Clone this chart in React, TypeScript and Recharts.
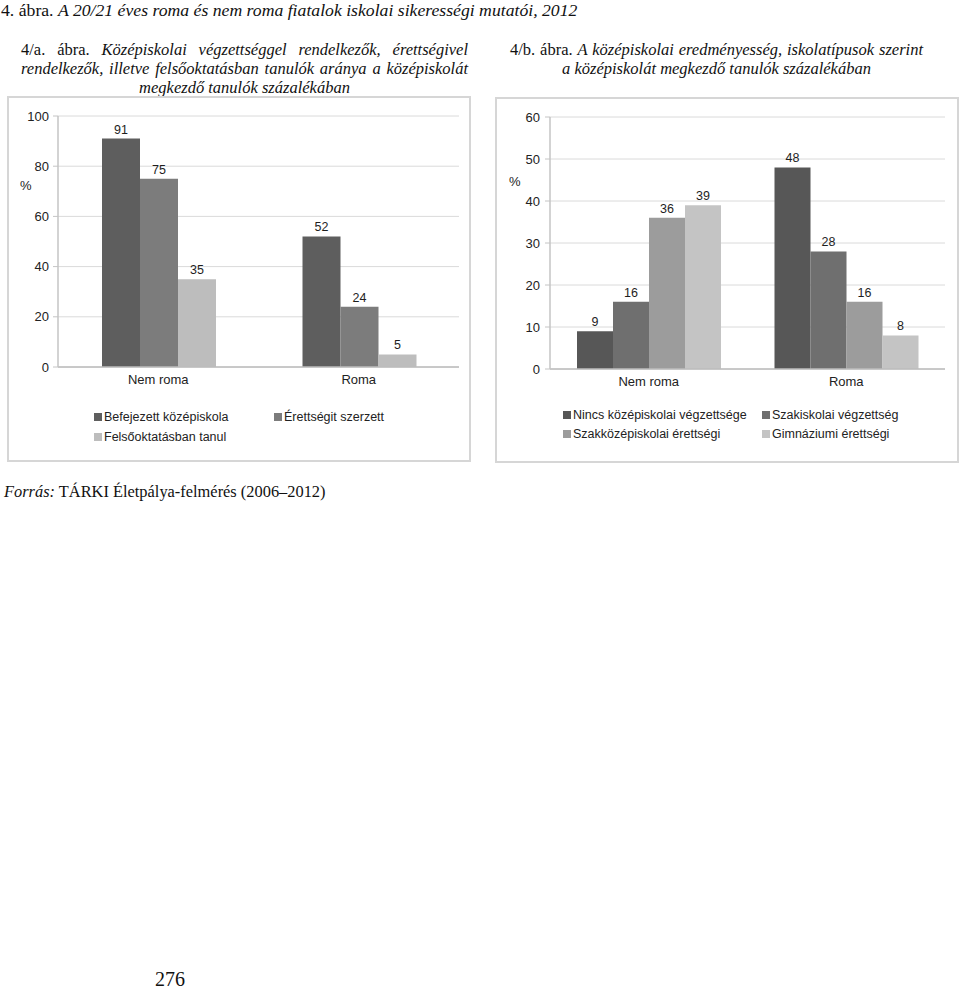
import { Bar, BarChart, CartesianGrid, LabelList, XAxis, YAxis } from "recharts";

const groups = ["Nem roma", "Roma"];

// 4/a
const leftNames = ["Befejezett középiskola", "Érettségit szerzett", "Felsőoktatásban tanul"];
const leftValues = [
  [91, 52],
  [75, 24],
  [35, 5],
];
const leftColors = ["#5e5e5e", "#7c7c7c", "#bdbdbd"];
const leftTicks = [0, 20, 40, 60, 80, 100];

// 4/b
const rightNames = [
  "Nincs középiskolai végzettsége",
  "Szakiskolai végzettség",
  "Szakközépiskolai érettségi",
  "Gimnáziumi érettségi",
];
const rightValues = [
  [9, 48],
  [16, 28],
  [36, 16],
  [39, 8],
];
const rightColors = ["#575757", "#6f6f6f", "#9c9c9c", "#c4c4c4"];
const rightTicks = [0, 10, 20, 30, 40, 50, 60];

const sans = "'Liberation Sans', Arial, sans-serif";
const serif = "'Liberation Serif', 'Times New Roman', serif";

function buildRows(values: number[][]) {
  return groups.map((group, i) => {
    const row: Record<string, string | number> = { group };
    values.forEach((v, s) => {
      row["s" + s] = v[i];
    });
    return row;
  });
}

type PanelProps = {
  names: string[];
  values: number[][];
  colors: string[];
  ticks: number[];
  left: number;
  top: number;
  width: number;
  marginTop: number;
  marginRight: number;
  axisWidth: number;
  tickMargin: number;
  gap: number;
};

function Panel(p: PanelProps) {
  const rows = buildRows(p.values);
  const max = p.ticks[p.ticks.length - 1];
  return (
    <div style={{ position: "absolute", left: p.left, top: p.top }}>
      <BarChart
        width={p.width}
        height={300}
        data={rows}
        margin={{ top: p.marginTop, right: p.marginRight, bottom: 0, left: 0 }}
        barCategoryGap={p.gap}
        barGap={0}
        style={{ fontFamily: sans }}
      >
        <CartesianGrid vertical={false} stroke="#dadada" yAxisId="l" xAxisId="cat" />
        <XAxis
          xAxisId="sep"
          type="number"
          domain={[0, 2]}
          ticks={[0, 1, 2]}
          height={0}
          tick={false}
          tickSize={4}
          tickLine={{ stroke: "#bdbdbd" }}
          axisLine={false}
        />
        <XAxis
          xAxisId="cat"
          dataKey="group"
          height={29}
          tickLine={false}
          axisLine={{ stroke: "#bdbdbd", strokeWidth: 1.5 }}
          tick={{ fill: "#222", fontSize: 13 }}
        />
        <YAxis
          yAxisId="l"
          width={p.axisWidth}
          domain={[0, max]}
          ticks={p.ticks}
          tickSize={5}
          tickMargin={p.tickMargin}
          axisLine={{ stroke: "#c4c4c4", strokeWidth: 1.5 }}
          tickLine={{ stroke: "#c4c4c4" }}
          tick={{ fill: "#222", fontSize: 13 }}
        />
        <YAxis
          yAxisId="r"
          orientation="right"
          width={0}
          domain={[0, max]}
          tick={false}
          tickLine={false}
          axisLine={{ stroke: "#d6d6d6", strokeWidth: 1.5 }}
        />
        {p.names.map((name, s) => (
          <Bar
            key={name}
            name={name}
            dataKey={"s" + s}
            xAxisId="cat"
            yAxisId="l"
            fill={p.colors[s]}
            isAnimationActive={false}
          >
            <LabelList dataKey={"s" + s} position="top" offset={5} fill="#1e1e1e" fontSize={12.5} />
          </Bar>
        ))}
      </BarChart>
    </div>
  );
}

function LegendBlock({
  names,
  colors,
  left,
  top,
  colWidth,
  rowHeight,
}: {
  names: string[];
  colors: string[];
  left: number;
  top: number;
  colWidth: number;
  rowHeight: number;
}) {
  return (
    <div
      style={{
        position: "absolute",
        left,
        top,
        display: "grid",
        gridTemplateColumns: `${colWidth}px auto`,
        gridAutoRows: rowHeight,
        fontFamily: sans,
        fontSize: 12.5,
        color: "#222",
      }}
    >
      {names.map((name, i) => (
        <div key={name} style={{ display: "flex", alignItems: "center", whiteSpace: "nowrap" }}>
          <span style={{ width: 8, height: 8, background: colors[i], marginRight: 2, display: "inline-block" }} />
          {name}
        </div>
      ))}
    </div>
  );
}

// one justified line of a caption; the last line is centred
function CapLine({ children, last }: { children: React.ReactNode; last?: boolean }) {
  return (
    <div
      style={{
        textAlign: last ? "center" : "justify",
        textAlignLast: last ? "center" : "justify",
        whiteSpace: "nowrap",
        height: 19,
      }}
    >
      {children}
    </div>
  );
}

export default function App() {
  return (
    <div
      style={{
        position: "absolute",
        left: 0,
        top: 0,
        width: 960,
        height: 996,
        background: "#fff",
        fontFamily: serif,
        color: "#111",
      }}
    >
      <div style={{ position: "absolute", left: 1, top: 0, fontSize: 17.7, lineHeight: "20px", whiteSpace: "nowrap" }}>
        4. ábra. <i>A 20/21 éves roma és nem roma fiatalok iskolai sikerességi mutatói, 2012</i>
      </div>

      <div style={{ position: "absolute", left: 21, top: 40, width: 447, fontSize: 16.5, lineHeight: "19px" }}>
        <CapLine>
          4/a. ábra. <i>Középiskolai végzettséggel rendelkezők, érettségivel</i>
        </CapLine>
        <CapLine>
          <i>rendelkezők, illetve felsőoktatásban tanulók aránya a középiskolát</i>
        </CapLine>
        <CapLine last>
          <i>megkezdő tanulók százalékában</i>
        </CapLine>
      </div>

      <div style={{ position: "absolute", left: 510, top: 40, width: 413, fontSize: 16.5, lineHeight: "19px" }}>
        <CapLine>
          4/b. ábra. <i>A középiskolai eredményesség, iskolatípusok szerint</i>
        </CapLine>
        <CapLine last>
          <i>a középiskolát megkezdő tanulók százalékában</i>
        </CapLine>
      </div>

      {/* frames */}
      <div
        style={{
          position: "absolute",
          left: 7,
          top: 96,
          width: 464,
          height: 366,
          boxSizing: "border-box",
          border: "2px solid #d6d6d6",
        }}
      />
      <div
        style={{
          position: "absolute",
          left: 495,
          top: 97,
          width: 464,
          height: 366,
          boxSizing: "border-box",
          border: "2px solid #d6d6d6",
        }}
      />

      <Panel
        names={leftNames}
        values={leftValues}
        colors={leftColors}
        ticks={leftTicks}
        left={0}
        top={96}
        width={480}
        marginTop={20}
        marginRight={21}
        axisWidth={58}
        tickMargin={4}
        gap={44}
      />
      <Panel
        names={rightNames}
        values={rightValues}
        colors={rightColors}
        ticks={rightTicks}
        left={490}
        top={98}
        width={470}
        marginTop={19}
        marginRight={15}
        axisWidth={60}
        tickMargin={5}
        gap={27}
      />

      <div style={{ position: "absolute", left: 20, top: 178, fontFamily: sans, fontSize: 13, color: "#222" }}>%</div>
      <div style={{ position: "absolute", left: 509, top: 174, fontFamily: sans, fontSize: 13, color: "#222" }}>%</div>

      <LegendBlock names={leftNames} colors={leftColors} left={94} top={407} colWidth={180} rowHeight={20} />
      <LegendBlock names={rightNames} colors={rightColors} left={563} top={405} colWidth={199} rowHeight={19} />

      <div style={{ position: "absolute", left: 4, top: 483, fontSize: 16.4, lineHeight: "18px", whiteSpace: "nowrap" }}>
        <i>Forrás:</i> TÁRKI Életpálya-felmérés (2006–2012)
      </div>

      <div style={{ position: "absolute", left: 155, top: 968, fontSize: 20, lineHeight: "22px" }}>276</div>
    </div>
  );
}
